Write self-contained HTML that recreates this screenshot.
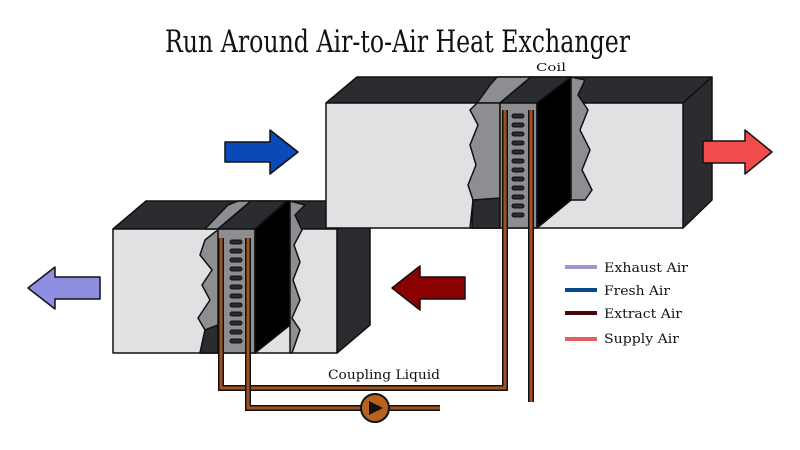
<!DOCTYPE html>
<html><head><meta charset="utf-8"><style>
html,body{margin:0;padding:0;background:#fff;width:800px;height:450px;overflow:hidden}
svg{display:block}
text{font-family:"DejaVu Serif","Liberation Serif",serif}
</style></head><body>
<svg width="800" height="450" viewBox="0 0 800 450" xmlns="http://www.w3.org/2000/svg">
<rect width="800" height="450" fill="#fff"/>
<text x="165" y="52" font-size="31" textLength="465" lengthAdjust="spacingAndGlyphs" fill="#111">Run Around Air-to-Air Heat Exchanger</text>
<text x="536" y="71" font-size="11" textLength="30" lengthAdjust="spacingAndGlyphs" fill="#111">Coil</text>

<g stroke="#111" stroke-width="1.5" stroke-linejoin="round">
<!-- bottom box -->
<polygon points="113,229 146,201 370,201 337,229" fill="#2b2c2f"/>
<polygon points="337,229 370,201 370,325 337,353" fill="#2b2c2f"/>
<rect x="113" y="229" width="224" height="124" fill="#e0e1e3"/>
<polygon points="205,229 228,205 238,201 251,201 218,229" fill="#8d8e91"/>
<polygon points="200,353 205,330 198,318 210,300 202,285 212,270 200,255 205,240 215,232 220,229 218,353" fill="#8d8e91"/>
<polygon points="205,330 218,325 218,353 200,353" fill="#2b2c2f"/>
<polygon points="218,229 251,201 287,201 255,229" fill="#2b2c2f"/>
<rect x="218" y="229" width="37" height="124" fill="#8d8e91"/>
<polygon points="255,229 287,201 290,201 290,325 255,353" fill="#000"/>
<polygon points="290,201 305,205 295,215 302,230 294,245 300,262 293,280 300,300 292,318 300,330 292,353 290,353" fill="#8d8e91"/>
<!-- top box -->
<polygon points="326,103 357,77 712,77 683,103" fill="#2b2c2f"/>
<polygon points="683,103 712,77 712,200 683,228" fill="#2b2c2f"/>
<rect x="326" y="103" width="357" height="125" fill="#e0e1e3"/>
<polygon points="477,103 490,85 497,77 531,77 500,103" fill="#8d8e91"/>
<polygon points="470,228 473,200 468,185 476,165 470,145 478,125 470,110 477,103 500,103 500,228" fill="#8d8e91"/>
<polygon points="473,200 500,198 500,228 472,228" fill="#2b2c2f"/>
<polygon points="500,103 531,77 571,77 537,103" fill="#2b2c2f"/>
<rect x="500" y="103" width="37" height="125" fill="#8d8e91"/>
<polygon points="537,103 571,77 571,200 537,228" fill="#000"/>
<polygon points="571,77 585,80 578,95 588,110 580,130 590,150 582,170 592,190 585,200 571,200" fill="#8d8e91"/>
</g>

<!-- fins -->
<g fill="#2b2c2f" stroke="#111">
<rect x="512" y="114" width="12" height="4" rx="2"/><rect x="512" y="123" width="12" height="4" rx="2"/><rect x="512" y="132" width="12" height="4" rx="2"/><rect x="512" y="141" width="12" height="4" rx="2"/><rect x="512" y="150" width="12" height="4" rx="2"/><rect x="512" y="159" width="12" height="4" rx="2"/><rect x="512" y="168" width="12" height="4" rx="2"/><rect x="512" y="177" width="12" height="4" rx="2"/><rect x="512" y="186" width="12" height="4" rx="2"/><rect x="512" y="195" width="12" height="4" rx="2"/><rect x="512" y="204" width="12" height="4" rx="2"/><rect x="512" y="213" width="12" height="4" rx="2"/>
<rect x="230" y="240" width="12" height="4" rx="2"/><rect x="230" y="249" width="12" height="4" rx="2"/><rect x="230" y="258" width="12" height="4" rx="2"/><rect x="230" y="267" width="12" height="4" rx="2"/><rect x="230" y="276" width="12" height="4" rx="2"/><rect x="230" y="285" width="12" height="4" rx="2"/><rect x="230" y="294" width="12" height="4" rx="2"/><rect x="230" y="303" width="12" height="4" rx="2"/><rect x="230" y="312" width="12" height="4" rx="2"/><rect x="230" y="321" width="12" height="4" rx="2"/><rect x="230" y="330" width="12" height="4" rx="2"/><rect x="230" y="339" width="12" height="4" rx="2"/>
</g>

<!-- pipes -->
<g fill="none" stroke-linejoin="miter">
<path d="M221,238 V388 H505 V110" stroke="#111" stroke-width="6"/>
<path d="M221,238 V388 H505 V110" stroke="#a0531f" stroke-width="3"/>
<path d="M248,238 V408 H440" stroke="#111" stroke-width="6"/>
<path d="M248,238 V408 H440" stroke="#a0531f" stroke-width="3"/>
<path d="M531,110 V402" stroke="#111" stroke-width="6"/>
<path d="M531,110 V402" stroke="#a0531f" stroke-width="3"/>
</g>
<circle cx="375" cy="408" r="14" fill="#b8621f" stroke="#111" stroke-width="2"/>
<polygon points="369,401 369,415 383,408" fill="#111"/>
<text x="328" y="379" font-size="13" textLength="112" lengthAdjust="spacingAndGlyphs" fill="#111">Coupling Liquid</text>

<!-- arrows -->
<g stroke="#111" stroke-width="1.5" stroke-linejoin="round">
<polygon points="225,142 270,142 270,130 298,152 270,174 270,162 225,162" fill="#0b49b8"/>
<polygon points="703,141 745,141 745,130 772,152 745,174 745,163 703,163" fill="#f24b4b"/>
<polygon points="100,277 55,277 55,267 28,288 55,309 55,299 100,299" fill="#8e8fe0"/>
<polygon points="465,277 420,277 420,266 392,288 420,310 420,299 465,299" fill="#8b0000"/>
</g>

<!-- legend -->
<g stroke-width="4">
<line x1="565" y1="267" x2="597" y2="267" stroke="#9a98cc"/>
<line x1="565" y1="290" x2="597" y2="290" stroke="#0a4a8a"/>
<line x1="565" y1="313" x2="597" y2="313" stroke="#4a0606"/>
<line x1="565" y1="339" x2="597" y2="339" stroke="#e06060"/>
</g>
<g font-size="13" fill="#111">
<text x="604" y="272" textLength="84" lengthAdjust="spacingAndGlyphs">Exhaust Air</text>
<text x="604" y="295" textLength="66" lengthAdjust="spacingAndGlyphs">Fresh Air</text>
<text x="604" y="318" textLength="78" lengthAdjust="spacingAndGlyphs">Extract Air</text>
<text x="604" y="343" textLength="75" lengthAdjust="spacingAndGlyphs">Supply Air</text>
</g>
</svg>
</body></html>
